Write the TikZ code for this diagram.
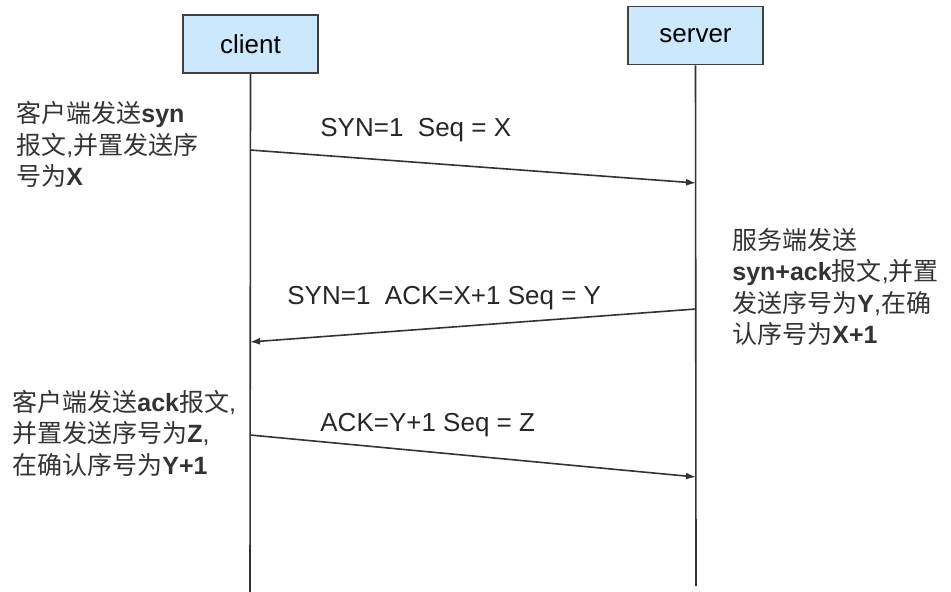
\documentclass[tikz,border=0pt]{standalone}
\usepackage{fontspec}
\setmainfont{Liberation Sans}
\newfontfamily\cjk{Noto Sans CJK SC}
\usetikzlibrary{arrows.meta}

\definecolor{boxblue}{RGB}{204,232,252}
\newcommand\zh[1]{{\cjk #1}}

\begin{document}
\begin{tikzpicture}[x=0.5pt,y=-0.5pt,
    actor/.style={draw=black!75,fill=boxblue,line width=0.8pt,minimum width=67.5pt,minimum height=29pt,inner sep=0pt,font=\fontsize{13}{15}\selectfont},
    life/.style={draw=black!80,line width=0.8pt},
    msg/.style={draw=black!80,line width=0.8pt,-{Latex[length=5pt,width=3.5pt]}},
    msglabel/.style={anchor=west,inner sep=0pt,text=black!85,font=\fontsize{13}{15}\selectfont},
    note/.style={anchor=base west,align=left,inner sep=0pt,text=black!80,font=\fontsize{12.5}{15.75}\selectfont}]
      \useasboundingbox (0,0) rectangle (951,592);

      \node[actor] (client) at (250.5,44) {client};
      \node[actor] (server) at (695.5,35.5) {server};

      \coordinate (clientend) at (250,592);
      \coordinate (serverend) at (696,586);
      \draw[life] (client.south) -- (clientend);
      \draw[life] (server.south) -- (serverend);

      \coordinate (c1) at (250,150);
      \coordinate (s1) at (696,183);
      \coordinate (s2) at (696,309);
      \coordinate (c2) at (250,342);
      \coordinate (c3) at (250,435);
      \coordinate (s3) at (696,477);

      \draw[msg] (c1) -- (s1);
      \draw[msg] (s2) -- (c2);
      \draw[msg] (c3) -- (s3);

      \node[msglabel] (syn) at (320,130) {SYN=1\ \ Seq = X};
      \node[msglabel] (synack) at (287,298) {SYN=1\ \ ACK=X+1 Seq = Y};
      \node[msglabel] (ack) at (320,425) {ACK=Y+1 Seq = Z};

      \node[note] (clientsyn) at (16,186) {\zh{客户端发送}\textbf{syn}\\
        \zh{报文},\zh{并置发送序}\\
        \zh{号为}\textbf{X}};
      \node[note] (serversynack) at (732,344) {\zh{服务端发送}\\
        \textbf{syn+ack}\zh{报文},\zh{并置}\\
        \zh{发送序号为}\textbf{Y},\zh{在确}\\
        \zh{认序号为}\textbf{X+1}};
      \node[note] (clientack) at (12,474) {\zh{客户端发送}\textbf{ack}\zh{报文},\\
        \zh{并置发送序号为}\textbf{Z},\\
        \zh{在确认序号为}\textbf{Y+1}};
    \end{tikzpicture}
\end{document}
